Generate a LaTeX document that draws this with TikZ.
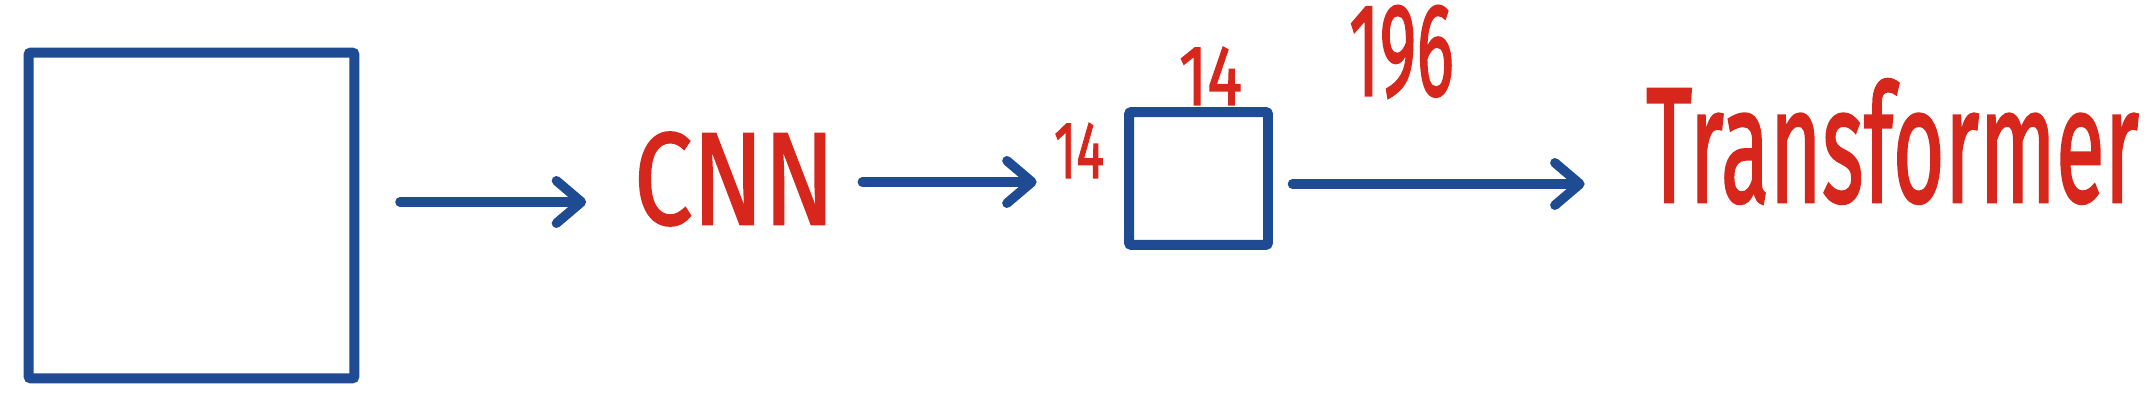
\documentclass[tikz,border=0pt]{standalone}
\usepackage{fontspec}
\setmainfont{Fira Sans}
\newfontfamily\handfont{Fira Sans}[FakeBold=1.6]
\usepackage{tikz}
\usetikzlibrary{arrows.meta}
\definecolor{penblue}{RGB}{30,75,145}
\definecolor{penred}{RGB}{215,38,28}
\newcommand{\hw}[3]{\resizebox{#1}{#2}{#3}}

\begin{document}
\begin{tikzpicture}[x=0.02cm, y=0.02cm,
        box/.style={draw=penblue, line width=0.2cm, inner sep=0, rounded corners=0.05cm},
        lbl/.style={text=penred, inner sep=0, font=\handfont},
        arr/.style={draw=penblue, line width=0.19cm, line cap=round, line join=round,
            -{Straight Barb[length=0.5cm,width=0.85cm,round]}}]
        \useasboundingbox (0,0) rectangle (2147,418);

        \node[box, minimum width=6.52cm, minimum height=6.52cm] (img) at (191.5,202.5) {};
        \node[lbl] (cnn) at (734.5,239) {\hw{4.02cm}{1.84cm}{CNN}};
        \node[box, minimum width=2.78cm, minimum height=2.66cm] (feat) at (1198.5,239.5) {};
        \node[lbl] (h14) at (1079,267.5) {\hw{1.0cm}{1.1cm}{14}};
        \node[lbl] (w14) at (1210.5,342) {\hw{1.26cm}{1.16cm}{14}};
        \node[lbl] (n196) at (1401.5,366) {\hw{2.1cm}{1.8cm}{196}};
        \node[lbl] (tf) at (1892.5,276.5) {\hw{9.86cm}{2.46cm}{Transformer}};

        \coordinate (row1) at (0,216);
        \coordinate (row2) at (0,236);
        \coordinate (row3) at (0,234);
        \draw[arr, shorten <=0.81cm, shorten >=0.95cm] (img.east |- row1) -- (cnn.west |- row1);
        \draw[arr, shorten <=0.54cm, shorten >=0.34cm] (cnn.east |- row2) -- (h14.west |- row2);
        \draw[arr, shorten <=0.39cm, shorten >=1.22cm] (feat.east |- row3) -- (tf.west |- row3);
    \end{tikzpicture}
\end{document}
